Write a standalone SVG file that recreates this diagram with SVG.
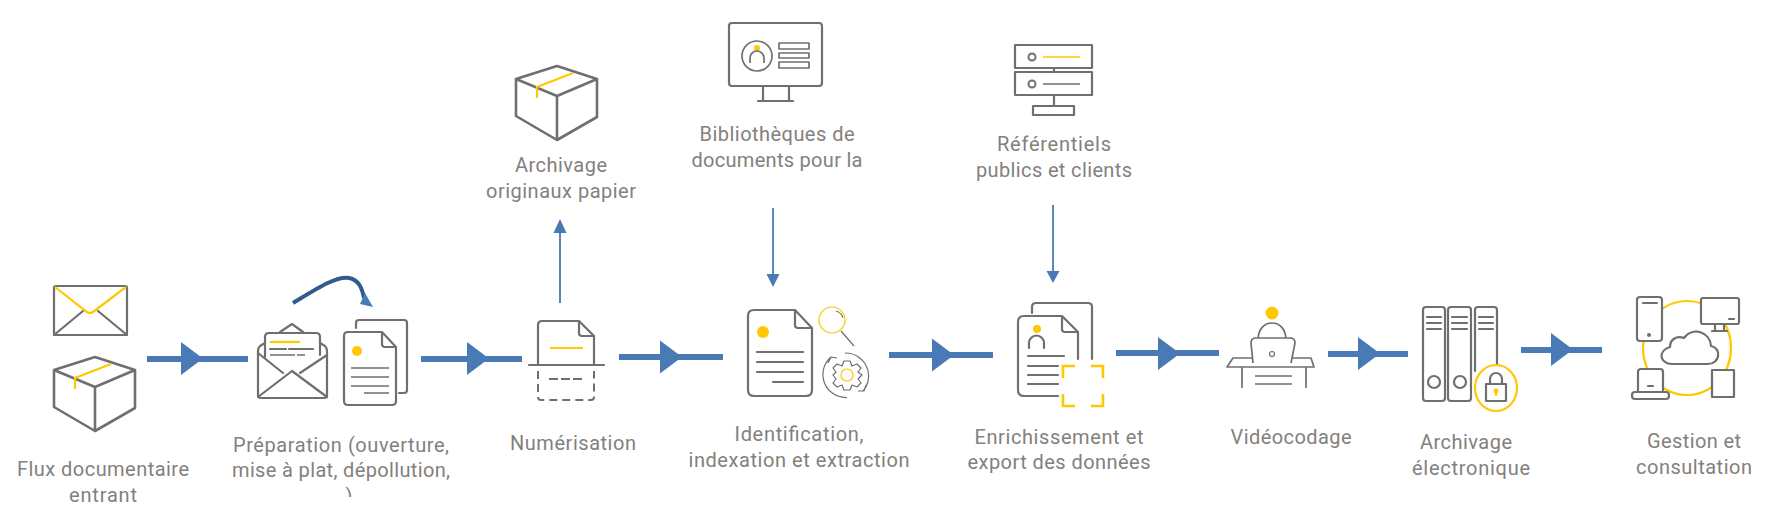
<svg xmlns="http://www.w3.org/2000/svg" width="1767" height="519" viewBox="0 0 1767 519">
<style>
.g{fill:none;stroke:#6f6f6f;stroke-width:2.2;stroke-linejoin:round;stroke-linecap:round}
.w{fill:#fff}
.t{fill:none;stroke:#6f6f6f;stroke-width:1.2;stroke-linejoin:round}
.m{fill:none;stroke:#6f6f6f;stroke-width:1.7;stroke-linejoin:round}
.y{fill:none;stroke:#ffc800;stroke-width:2.2}
.yf{fill:#ffc800}
.b{fill:#4a7ab5}
.l{stroke:#4a7ab5;stroke-width:1.8;fill:none}
text{font-family:"Roboto","Liberation Sans",sans-serif;font-size:20px;fill:#83807d;text-anchor:middle}
</style>
<defs>
<polygon id="tri" class="b" points="0,0 22,16.500 0,33"/>
<g id="box">
<path class="g" style="stroke-width:2.6" d="M54 370 95 357 135 370 95 387ZM54 370V407L95 431 135 408V370M95 387V431"/>
<path class="y" d="M111 364 75 378V389"/>
</g>
<clipPath id="cut"><rect x="330" y="486" width="40" height="11"/></clipPath>
</defs>

<g id="connectors">
<rect class="b" x="147" y="356" width="101" height="6"/><use href="#tri" x="181" y="342"/>
<rect class="b" x="421" y="356" width="101" height="6"/><use href="#tri" x="467" y="342"/>
<rect class="b" x="619" y="354" width="104" height="6"/><use href="#tri" x="660" y="340.500"/>
<rect class="b" x="889" y="352" width="104" height="6"/><use href="#tri" x="932" y="338.500"/>
<rect class="b" x="1116" y="350" width="103" height="6"/><use href="#tri" x="1158" y="337"/>
<rect class="b" x="1328" y="351" width="80" height="6"/><use href="#tri" x="1358" y="337"/>
<rect class="b" x="1521" y="347" width="81" height="6"/><use href="#tri" x="1551" y="333"/>
<path d="M560 303V230" class="l"/><polygon class="b" points="560,219 566.500,233 553.500,233"/>
<path d="M773 208V276" class="l"/><polygon class="b" points="773,287 766.500,274 779.500,274"/>
<path d="M1053 205V273" class="l"/><polygon class="b" points="1053,283 1046.500,271 1059.500,271"/>
<path d="M293 303C318 288 336 276 349 278 359 280 362 288 364 298" fill="none" stroke="#2f5b8f" stroke-width="4"/>
<polygon class="b" points="360,304 373,307 365,293"/>
</g>

<g id="flux">
<rect class="g" x="54" y="286" width="73" height="49" rx="2"/>
<path class="g" d="M54 335 83 311M127 335 98 311"/>
<path class="y" d="M55 287 87 312Q90 314 93 312L126 287"/>
<use href="#box"/>
<text x="103" y="476" textLength="172" lengthAdjust="spacing">Flux documentaire</text>
<text x="103" y="502" textLength="68" lengthAdjust="spacing">entrant</text>
</g>

<g id="preparation">
<path class="g" d="M280 332 292 324 303 332"/>
<path class="g" d="M265 343 260 346Q258 348 258 351V395Q258 398 261 398H324Q327 398 327 395V351Q327 348 325 346L320 343"/>
<path class="g" d="M265 357V337Q265 333 269 333H316Q320 333 320 337V355"/>
<path class="g" d="M258 397 292 371 327 397M258 353 283 373M327 355 300 373"/>
<path class="y" d="M270 342H300"/>
<path class="g" d="M270 349H286M289 349H313"/>
<path class="t" style="stroke-width:1.6" d="M270 355H295M297 355H305"/>
<path class="g" d="M356 328V323Q356 320 359 320H404Q407 320 407 323V390Q407 393 404 393H399"/>
<path class="g" d="M382 332H348Q344 332 344 336V401Q344 405 348 405H392Q396 405 396 401V347ZM382 332V344Q382 347 385 347H396"/>
<circle class="yf" cx="357" cy="351" r="5"/>
<path class="m" d="M351 368H389M351 377H389M351 386H389M364 393H389"/>
<text x="341" y="452" textLength="216" lengthAdjust="spacing">Préparation (ouverture,</text>
<text x="341" y="477" textLength="218" lengthAdjust="spacing">mise à plat, dépollution,</text>
<text x="349" y="503" clip-path="url(#cut)">)</text>
</g>

<g id="numerisation">
<path class="g" d="M538 365V325Q538 321 542 321H579L594 336V365M579 321V333Q579 336 582 336H594"/>
<path class="g" d="M529 365H604"/>
<path class="y" d="M550 348H583"/>
<path class="m" style="stroke-width:2" stroke-dasharray="8 5" d="M538 371V397Q538 400 541 400H591Q594 400 594 397V371"/>
<path class="m" style="stroke-width:2" stroke-dasharray="9 3" d="M549 379H584"/>
<text x="573" y="450" textLength="126" lengthAdjust="spacing">Numérisation</text>
</g>

<g id="archivage-papier">
<use href="#box" x="462" y="-291"/>
<text x="561" y="172" textLength="92" lengthAdjust="spacing">Archivage</text>
<text x="561" y="198" textLength="150" lengthAdjust="spacing">originaux papier</text>
</g>

<g id="bibliotheques">
<rect class="g" x="729" y="23" width="93" height="63" rx="3"/>
<path class="g" d="M763 86V101M789 86V101M758 101H793"/>
<circle class="m" cx="757" cy="56" r="15"/>
<circle class="yf" cx="757" cy="48" r="3"/>
<path class="m" d="M750 63V58A7 7 0 0 1 764 58V63"/>
<path class="m" d="M779 43H809V49H779ZM779 53H809V58H779ZM779 62H809V68H779Z"/>
<text x="777" y="141" textLength="155" lengthAdjust="spacing">Bibliothèques de</text>
<text x="777" y="167" textLength="171" lengthAdjust="spacing">documents pour la</text>
</g>

<g id="identification">
<path class="g" d="M795 310H754Q748 310 748 316V390Q748 396 754 396H806Q812 396 812 390V328ZM795 310V325Q795 328 798 328H812"/>
<circle class="yf" cx="763" cy="332" r="6"/>
<path class="g" d="M757 352H803M757 362H803M757 372H803M773 382H803"/>
<circle cx="832" cy="320" r="13" fill="none" stroke="#ffc800" stroke-width="1.2"/>
<path class="t" d="M841 331 854 346M836 311Q842 313 843 318"/>
<path class="t" d="M844 361 850 361 852 366 857 364 861 368 858 372 862 375 858 379 861 383 857 387 852 385 850 390H844L842 385 837 387 833 383 836 379 833 375 836 372 833 368 837 364 842 366Z"/>
<circle cx="847" cy="375" r="6" fill="none" stroke="#ffc800" stroke-width="1.2"/>
<path class="t" d="M831 357A23 23 0 0 0 847 397.500M845 353A23 23 0 0 1 863 391M828 363 831 357 837 358M858 391H864L866 385"/>
<text x="799" y="441" textLength="129" lengthAdjust="spacing">Identification,</text>
<text x="799" y="467" textLength="221" lengthAdjust="spacing">indexation et extraction</text>
</g>

<g id="referentiels">
<rect class="g" x="1015" y="45" width="77" height="23"/>
<rect class="g" x="1015" y="72" width="77" height="23"/>
<path class="g" d="M1054 68V72M1054 95V106"/>
<rect class="g" x="1033" y="106" width="41" height="9"/>
<circle class="m" style="stroke-width:2" cx="1032" cy="57" r="3.500"/>
<circle class="m" style="stroke-width:2" cx="1032" cy="84" r="3.500"/>
<path class="y" style="stroke-width:1.7" d="M1043 57H1080"/>
<path class="m" d="M1043 84H1080"/>
<text x="1054" y="151" textLength="114" lengthAdjust="spacing">Référentiels</text>
<text x="1054" y="177" textLength="156" lengthAdjust="spacing">publics et clients</text>
</g>

<g id="enrichissement">
<path class="g" d="M1032 313V307Q1032 303 1036 303H1088Q1092 303 1092 307V359"/>
<path class="g" d="M1078 359V332L1062 316H1024Q1018 316 1018 322V390Q1018 396 1024 396H1058M1062 316V329Q1062 332 1065 332H1078"/>
<circle class="yf" cx="1037" cy="329" r="4"/>
<path class="g" d="M1029 348V343A7.500 7.500 0 0 1 1044 343V348"/>
<path class="g" d="M1028 356H1064M1028 366H1058M1028 375H1058M1028 384H1058"/>
<path class="y" style="stroke-width:2.600" d="M1075 366H1063V378M1091 366H1103V378M1063 394V406H1075M1103 394V406H1091"/>
<text x="1059" y="444" textLength="169" lengthAdjust="spacing">Enrichissement et</text>
<text x="1059" y="469" textLength="183" lengthAdjust="spacing">export des données</text>
</g>

<g id="videocodage">
<circle class="yf" cx="1272" cy="313" r="6.500"/>
<path class="m" d="M1258 338C1259 329 1264 323 1272 323S1285 329 1286 338"/>
<path class="m" d="M1253 363 1251 343Q1251 338 1256 338H1290Q1295 338 1295 343L1291 363"/>
<circle class="t" cx="1272" cy="354" r="2.500"/>
<path class="m" d="M1253 358H1233L1227 367H1314L1311 358H1292M1242 367V388M1306 367V388M1255 376H1292M1255 384H1292"/>
<text x="1291" y="444" textLength="121" lengthAdjust="spacing">Vidéocodage</text>
</g>

<g id="archivage-electronique">
<rect class="g" x="1423" y="307" width="22" height="94" rx="3"/>
<rect class="g" x="1448" y="307" width="23" height="94" rx="3"/>
<path class="g" d="M1475 371V310Q1475 307 1478 307H1494Q1497 307 1497 310V365"/>
<path class="g" d="M1427 317H1441M1427 323H1441M1427 329H1441M1452 317H1467M1452 323H1467M1452 329H1467M1479 317H1493M1479 323H1493M1479 329H1493"/>
<circle class="g" cx="1434" cy="382" r="6"/>
<circle class="g" cx="1460" cy="382" r="6"/>
<ellipse class="y" cx="1496" cy="388" rx="21" ry="23"/>
<rect class="g" x="1486" y="384" width="20" height="17"/>
<path class="g" d="M1490 384V379A6 6 0 0 1 1502 379V384"/>
<circle class="yf" cx="1496" cy="391" r="2.500"/>
<rect class="yf" x="1495" y="391" width="2" height="5"/>
<text x="1466" y="449" textLength="92" lengthAdjust="spacing">Archivage</text>
<text x="1471" y="475" textLength="118" lengthAdjust="spacing">électronique</text>
</g>

<g id="gestion">
<ellipse class="y" cx="1687" cy="348" rx="44" ry="47"/>
<rect class="g w" x="1637" y="297" width="25" height="44" rx="3"/>
<path class="g" d="M1643 303H1657"/>
<circle style="fill:#6f6f6f" cx="1649" cy="335" r="2"/>
<rect class="g w" x="1701" y="298" width="38" height="26" rx="2"/>
<path class="g" d="M1729 319H1734M1715 324V330M1724 324V330M1712 331H1727"/>
<path class="g" d="M1672 364H1708C1720 364 1722 348 1711 346 1710 332 1693 326 1684 338 1676 335 1670 340 1670 347 1657 351 1660 364 1672 364Z"/>
<path class="g w" d="M1638 392V372Q1638 369 1641 369H1660Q1663 369 1663 372V392Z"/>
<rect class="g w" x="1632" y="392" width="37" height="7" rx="3"/>
<path class="g" d="M1648 386H1653"/>
<rect class="g w" x="1712" y="370" width="22" height="27"/>
<text x="1694" y="448" textLength="94" lengthAdjust="spacing">Gestion et</text>
<text x="1694" y="474" textLength="116" lengthAdjust="spacing">consultation</text>
</g>
</svg>
